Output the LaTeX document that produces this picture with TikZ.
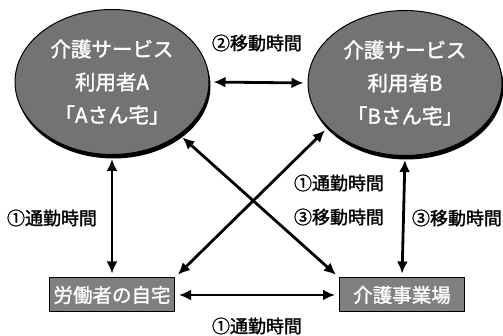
\documentclass[tikz,border=0pt]{standalone}
\usepackage{fontspec}
\setmainfont{Noto Sans CJK JP}
\newfontfamily\jpbold{Noto Sans CJK JP}[FakeBold=1.5]
\usetikzlibrary{shapes.geometric,shadows,arrows.meta}
\begin{document}
\begin{tikzpicture}[x=1pt, y=-1pt, >={Latex[length=12pt,width=11pt]},
  user/.style={ellipse, draw=black, line width=1pt, fill=black!55, text=white,
    minimum width=194pt, minimum height=145pt, align=center,
    font=\jpbold\fontsize{20.5}{33}\selectfont,
    drop shadow={shadow xshift=1.5pt, shadow yshift=-4pt, fill=black, opacity=1}},
  place/.style={rectangle, draw=black, line width=1pt, fill=black!50, text=white,
    minimum width=125pt, minimum height=34pt, inner sep=0pt,
    font=\jpbold\fontsize{19.5}{22}\selectfont},
  lbl/.style={font=\jpbold\fontsize{18}{20}\selectfont},
  link/.style={<->, line width=2.8pt, shorten >=4pt, shorten <=4pt}]
  \useasboundingbox (0,0) rectangle (503,336);
  \node[user] (userA) at (112,82) {介護サービス\\利用者A\\「Aさん宅」};
  \node[user] (userB) at (405,83) {介護サービス\\利用者B\\「Bさん宅」};
  \node[place] (home) at (112,295) {労働者の自宅};
  \node[place] (office) at (402,295) {介護事業場};
  % connectors
  \draw[link] (userA.east) -- (userB.west);
  \draw[link] (userA.south) -- (home.north);
  \draw[link] (userB.south) -- (office.north);
  \draw[link] (home.east) -- (office.west);
  \draw[link] (home.north east) -- (userB.210);
  \draw[link] (userA.322) -- (office.north west);
  % labels
  \node[lbl] (t1) at (257,43) {②移動時間};
  \node[lbl] (t2) at (52,218) {①通勤時間};
  \node[lbl] (t3) at (339,183) {①通勤時間};
  \node[lbl] (t4) at (339,217) {③移動時間};
  \node[lbl] (t5) at (457,218) {③移動時間};
  \node[lbl] (t6) at (257,326) {①通勤時間};
\end{tikzpicture}
\end{document}
